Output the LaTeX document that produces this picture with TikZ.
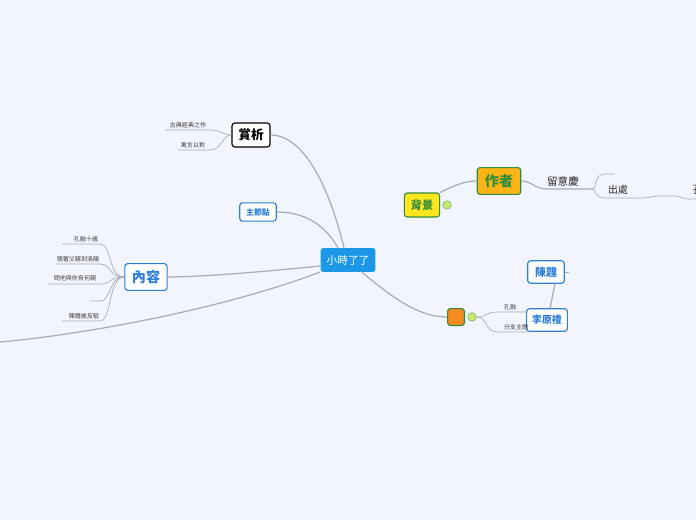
\documentclass[tikz,border=0pt]{standalone}
\usepackage{fontspec}
\newfontfamily\cjk{Noto Sans CJK TC}
\usepackage{tikz}
\usetikzlibrary{positioning,calc}
\definecolor{mapbg}{RGB}{242,245,253}
\definecolor{mapblue}{RGB}{28,152,232}
\definecolor{mapedge}{RGB}{46,128,214}
\definecolor{mapline}{RGB}{172,174,180}
\definecolor{mapgreen}{RGB}{52,140,58}
\definecolor{mapyellow}{RGB}{255,230,30}
\definecolor{maporange}{RGB}{250,180,22}
\definecolor{mapdeep}{RGB}{246,138,34}
\definecolor{mapdot}{RGB}{204,232,112}

\begin{document}
\begin{tikzpicture}[x=0.025cm, y=-0.025cm,
    every node/.style={font=\cjk},
    conn/.style={draw=mapline, line width=0.9pt},
    thin conn/.style={draw=mapline, line width=0.5pt},
    topic/.style={draw=mapedge, fill=white, rounded corners=2pt, line width=0.8pt,
          text=mapedge, inner sep=0pt},
    leaf/.style={inner sep=1pt, font=\cjk\fontsize{4.3}{5}\selectfont, text=black!75},
    dot/.style={circle, draw=mapgreen!70, fill=mapdot, inner sep=0pt, minimum size=6pt}]
  \fill[mapbg] (0,0) rectangle (696,520);
  \useasboundingbox (0,0) rectangle (696,520);

  % central topic and main branches
  \node[fill=mapblue, rounded corners=2pt, text=white,
        minimum width=39pt, minimum height=17pt, inner sep=0pt,
        font=\cjk\fontsize{7.6}{9}\selectfont] (center) at (348,260) {小時了了};
  \node[draw=black, fill=white, rounded corners=2pt, line width=0.8pt, minimum width=27pt,
        minimum height=17pt, inner sep=0pt, font=\cjk\bfseries\fontsize{9}{10}\selectfont]
       (shangxi) at (251,135) {賞析};
  \node[topic, minimum width=26pt, minimum height=13pt,
        font=\cjk\bfseries\fontsize{5.6}{6}\selectfont] (zhu) at (258,212) {主節點};
  \node[topic, minimum width=30pt, minimum height=19pt,
        font=\cjk\bfseries\fontsize{10}{11}\selectfont] (neirong) at (146,277) {內容};
  \node[draw=mapgreen, fill=mapyellow, rounded corners=2pt, line width=0.8pt,
        text=mapgreen, minimum width=25pt, minimum height=17pt, inner sep=0pt,
        font=\cjk\bfseries\fontsize{8}{9}\selectfont] (beijing) at (422,205) {背景};
  \node[dot] (bdot) at (447,205) {};
  \node[draw=mapgreen, fill=maporange, rounded corners=2pt, line width=0.8pt,
        text=mapgreen, minimum width=31pt, minimum height=19pt, inner sep=0pt,
        font=\cjk\bfseries\fontsize{10}{11}\selectfont] (zuozhe) at (499,181) {作者};
  \node[draw=mapgreen, fill=mapdeep, rounded corners=2pt, line width=0.8pt,
        minimum width=12pt, minimum height=12pt, inner sep=0pt] (blank) at (456,317) {};
  \node[dot] (odot) at (472,317) {};
  \node[topic, minimum width=29pt, minimum height=16pt,
        font=\cjk\bfseries\fontsize{7}{8}\selectfont] (li) at (547,320) {李原禮};
  \node[topic, minimum width=26pt, minimum height=16pt,
        font=\cjk\bfseries\fontsize{7.8}{9}\selectfont] (chen) at (546,272) {陳韙};

  \draw[conn] ($(center.north)+(-4,0)$) .. controls (330,190) and (305,135) .. (shangxi.east);
  \draw[conn] ($(center.north)+(-10,0)$) .. controls (325,225) and (305,212) .. (zhu.east);
  \draw[conn] ($(center.west)+(0,6)$) .. controls (260,272) and (200,277) .. (neirong.east);
  \draw[conn] ($(center.west)+(0,12)$) .. controls (220,310) and (80,335) .. (0,342);
  \draw[conn] ($(center.south)+(14,0)$) .. controls (395,300) and (420,317) .. (blank.west);
  \draw[conn] (beijing.north east) .. controls (455,185) and (465,181) .. (zuozhe.west);
  \draw[conn] ($(li.north)+(3,0)$) -- ($(chen.south)+(9,0)$);
  \draw[thin conn] (chen.east) -- ++(4,0);

  % 賞析 leaves
  \node[leaf] (s1) at (188,125) {古典經典之作};
  \node[leaf] (s2) at (193,145) {寓言以對};
  \draw[thin conn] (shangxi.west) .. controls (222,135) and (222,130) .. (210,130)
        -- (165,130);
  \draw[thin conn] (shangxi.west) .. controls (222,135) and (222,150) .. (210,150)
        -- (178,150);

  % 內容 leaves
  \node[leaf] (n1) at (86,239) {孔融十歲};
  \node[leaf] (n2) at (78,259) {隨著父親到洛陽};
  \node[leaf] (n3) at (75,278) {問他與你有何親};
  \node[leaf] (n5) at (84,316) {陳韙被反駁};
  \foreach \yy/\xx in {244/62, 264/55, 284/48, 301/90, 321/62}
    \draw[thin conn] (neirong.west) .. controls (108,277) and (112,\yy) .. (100,\yy)
          -- (\xx,\yy);

  % 作者 branch
  \node[font=\cjk\fontsize{7.5}{8}\selectfont, text=black!85] (liu) at (563,181) {留意慶};
  \node[font=\cjk\fontsize{7}{8}\selectfont, text=black!85] (chu) at (618,190) {出處};
  \node[anchor=west, font=\cjk\fontsize{7.5}{8}\selectfont, text=black!85]
       (zi) at (688,190) {孔融};
  \draw[conn] (zuozhe.east) .. controls (532,181) and (534,189) .. (548,189) -- (592,189);
  \draw[thin conn] (592,189) .. controls (598,189) and (592,174) .. (606,174) -- (614,174);
  \draw[thin conn] (592,189) .. controls (598,189) and (592,198) .. (606,198) -- (640,198)
        .. controls (652,198) and (650,196) .. (660,196) -- (675,196)
        .. controls (682,196) and (680,199) .. (690,199) -- (696,199);

  % blank topic leaves
  \node[leaf] (k1) at (510,307) {孔融};
  \node[leaf] (k2) at (516,327) {分支主題};
  \draw[thin conn] (odot.east) .. controls (488,317) and (484,312) .. (498,312) -- (526,312);
  \draw[thin conn] (odot.east) .. controls (488,317) and (484,332) .. (498,332) -- (530,332);
\end{tikzpicture}
\end{document}
